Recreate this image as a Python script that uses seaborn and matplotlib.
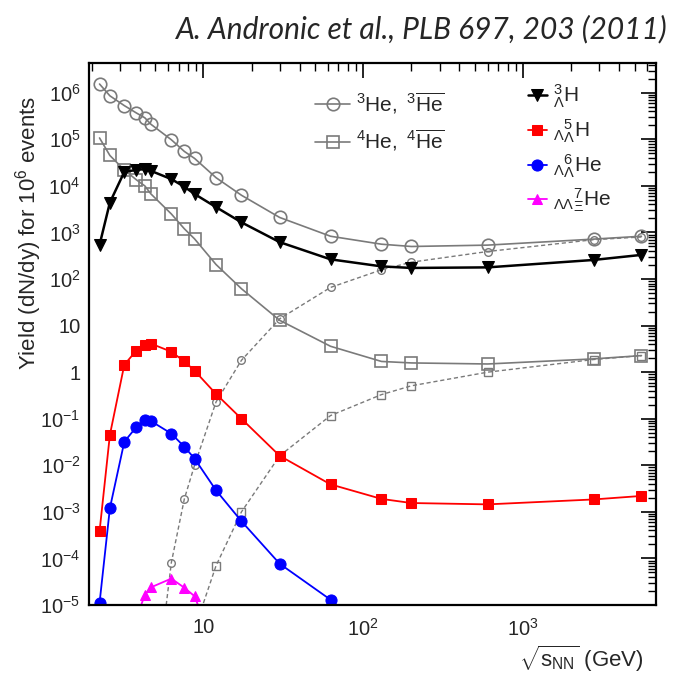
import numpy as np
import pandas as pd
import matplotlib
matplotlib.use("Agg")
import matplotlib.pyplot as plt
import seaborn as sns
from matplotlib.ticker import FixedLocator, FixedFormatter, LogLocator, NullFormatter

sns.set_theme(style="white")
plt.rcParams['font.family'] = ['Liberation Sans', 'DejaVu Sans']
plt.rcParams['mathtext.fontset'] = 'custom'
plt.rcParams['mathtext.rm'] = 'Liberation Sans'
plt.rcParams['mathtext.it'] = 'Liberation Sans:italic'
plt.rcParams['mathtext.bf'] = 'Liberation Sans:bold'

# ---------------- data ----------------
sqrt_s = [2.24, 2.6, 3.2, 3.8, 4.3, 4.7, 6.3, 7.6, 8.8, 12.0, 17.3, 30.0, 62.4,
          130.0, 200.0, 600.0, 2760.0, 5500.0]
he3 = [1.54e6, 8.6e5, 5.3e5, 3.7e5, 2.9e5, 2.1e5, 9.8e4, 5.5e4, 3.9e4, 1.5e4,
       6.3e3, 2.1e3, 830, 560, 500, 535, 720, 830]
he4 = [1.07e5, 4.5e4, 2.2e4, 1.36e4, 1.0e4, 6.7e3, 2.5e3, 1.2e3, 730, 205,
       62, 13, 3.6, 1.7, 1.58, 1.5, 1.93, 2.27]
hyper_h3 = [540, 4.4e3, 2.0e4, 2.2e4, 2.3e4, 2.1e4, 1.4e4, 9.6e3, 6.7e3, 3.5e3,
            1.65e3, 620, 265, 187, 173, 178, 257, 330]
ll_h5 = [3.8e-4, 0.045, 1.44, 2.9, 3.9, 4.1, 2.75, 1.7, 1.08, 0.34, 0.1, 0.016,
         3.9e-3, 1.9e-3, 1.55e-3, 1.45e-3, 1.85e-3, 2.2e-3]

anti_he3_x = [4.7, 6.3, 7.6, 8.8, 12.0, 17.3, 30.0, 62.4, 130.0, 200.0, 600.0, 2760.0, 5500.0]
anti_he3 = [2e-8, 8.1e-5, 1.9e-3, 1.0e-2, 0.23, 1.8, 14, 66, 158, 230, 390, 700, 800]
anti_he4_x = [8.8, 12.0, 17.3, 30.0, 62.4, 130.0, 200.0, 600.0, 2760.0, 5500.0]
anti_he4 = [3e-6, 7e-5, 1e-3, 0.016, 0.117, 0.33, 0.51, 1.0, 1.87, 2.27]

ll_he6_x = [2.24, 2.6, 3.2, 3.8, 4.3, 4.7, 6.3, 7.6, 8.8, 12.0, 17.3, 30.0, 62.4, 130.0]
ll_he6 = [1.1e-5, 1.2e-3, 0.032, 0.066, 0.092, 0.089, 0.048, 0.025, 0.014, 2.9e-3,
          6.3e-4, 7.7e-5, 1.3e-5, 2e-7]
llx_he7_x = [3.8, 4.3, 4.7, 6.3, 7.6, 8.8, 12.0]
llx_he7 = [5e-6, 1.66e-5, 2.4e-5, 3.7e-5, 2.35e-5, 1.55e-5, 1e-6]

y_ticks = [1e-5, 1e-4, 1e-3, 1e-2, 1e-1, 1, 10, 1e2, 1e3, 1e4, 1e5, 1e6]
y_ticklabels = ['$10^{-5}$', '$10^{-4}$', '$10^{-3}$', '$10^{-2}$', '$10^{-1}$', '1', '10',
                '$10^{2}$', '$10^{3}$', '$10^{4}$', '$10^{5}$', '$10^{6}$']
x_ticks = [10, 100, 1000]
x_ticklabels = ['10', '$10^{2}$', '$10^{3}$']

lab_he3 = r'$^{3}\mathrm{He},\ ^{3}\overline{\mathrm{He}}$'
lab_he4 = r'$^{4}\mathrm{He},\ ^{4}\overline{\mathrm{He}}$'
lab_h3 = r'${}^{3}_{\Lambda}\mathrm{H}$'
lab_h5 = r'${}_{\Lambda}{}^{5}_{\Lambda}\mathrm{H}$'
lab_he6 = r'${}_{\Lambda}{}^{6}_{\Lambda}\mathrm{He}$'
lab_he7 = r'${}_{\Lambda\Lambda}{}^{7}_{\Xi}\mathrm{He}$'

# ---------------- figure ----------------
fig = plt.figure(figsize=(6.73, 6.73), dpi=100)
ax = fig.add_axes([0.132, 0.101, 0.843, 0.805])

gray = '#7a7a7a'
common = dict(estimator=None, sort=False, ax=ax)

sns.lineplot(x=anti_he3_x, y=anti_he3, color=gray, linestyle=(0, (3, 2)), linewidth=1.0,
             marker='o', markersize=5.5, markerfacecolor='none', markeredgecolor=gray,
             markeredgewidth=1.0, **common)
sns.lineplot(x=anti_he4_x, y=anti_he4, color=gray, linestyle=(0, (3, 2)), linewidth=1.0,
             marker='s', markersize=5.5, markerfacecolor='none', markeredgecolor=gray,
             markeredgewidth=1.0, **common)
sns.lineplot(x=sqrt_s, y=he3, color=gray, linewidth=1.2, marker='o', markersize=9,
             markerfacecolor='none', markeredgecolor=gray, markeredgewidth=1.2,
             label=lab_he3, **common)
sns.lineplot(x=sqrt_s, y=he4, color=gray, linewidth=1.2, marker='s', markersize=8.6,
             markerfacecolor='none', markeredgecolor=gray, markeredgewidth=1.2,
             label=lab_he4, **common)
sns.lineplot(x=sqrt_s, y=hyper_h3, color='black', linewidth=1.8, marker='v', markersize=8,
             markerfacecolor='black', markeredgecolor='black', label=lab_h3, **common)
sns.lineplot(x=sqrt_s, y=ll_h5, color='#ff0000', linewidth=1.3, marker='s', markersize=7.5,
             markerfacecolor='#ff0000', markeredgecolor='#ff0000', label=lab_h5, **common)
sns.lineplot(x=ll_he6_x, y=ll_he6, color='#0000ff', linewidth=1.3, marker='o', markersize=8,
             markerfacecolor='#0000ff', markeredgecolor='#0000ff', label=lab_he6, **common)
sns.lineplot(x=llx_he7_x, y=llx_he7, color='#ff00ff', linewidth=1.3, marker='^', markersize=7,
             markerfacecolor='#ff00ff', markeredgecolor='#ff00ff', label=lab_he7, **common)

ax.set_xscale('log')
ax.set_yscale('log')
ax.set_xlim(1.92, 6800)
ax.set_ylim(1e-5, 4.3e6)

ax.yaxis.set_major_locator(FixedLocator(y_ticks))
ax.yaxis.set_major_formatter(FixedFormatter(y_ticklabels))
ax.yaxis.set_minor_locator(LogLocator(base=10, subs=np.arange(2, 10), numticks=30))
ax.yaxis.set_minor_formatter(NullFormatter())
ax.xaxis.set_major_locator(FixedLocator(x_ticks))
ax.xaxis.set_major_formatter(FixedFormatter(x_ticklabels))
ax.xaxis.set_minor_locator(LogLocator(base=10, subs=np.arange(2, 10), numticks=30))
ax.xaxis.set_minor_formatter(NullFormatter())

ax.tick_params(which='both', direction='in', top=True, right=True, color='black')
ax.tick_params(which='major', length=11, width=1.2, labelsize=14.5)
ax.tick_params(which='minor', length=6, width=1.0)
ax.tick_params(axis='y', which='major', pad=6)
ax.tick_params(axis='x', which='major', pad=9)
for s in ax.spines.values():
    s.set_color('black')
    s.set_linewidth(1.6)

ax.set_xlabel('')
ax.set_ylabel('')
fig.text(29 / 673, 1 - 233 / 673, r'Yield (dN/dy) for $10^{6}$ events', rotation=90,
         ha='center', va='center', fontsize=16)
fig.text(644 / 673, 1 - 659 / 673, r'$\sqrt{\mathrm{s}_{\mathrm{NN}}}$ (GeV)',
         ha='right', va='center', fontsize=16)
fig.text(668 / 673, 1 - 29 / 673, 'A. Andronic et al., PLB 697, 203 (2011)',
         ha='right', va='center', fontsize=21.5, family='Lato', style='italic')

handles, labels = ax.get_legend_handles_labels()
hd = dict(zip(labels, handles))
leg1 = ax.legend([hd[lab_he3], hd[lab_he4]], [lab_he3, lab_he4],
                 loc='upper left', bbox_to_anchor=(315 / 673, 1 - 91 / 673),
                 bbox_transform=fig.transFigure, frameon=False, fontsize=15,
                 handlelength=1.7, handletextpad=0.25, labelspacing=0.58, borderpad=0,
                 borderaxespad=0)
ax.add_artist(leg1)
leg2 = ax.legend([hd[lab_h3], hd[lab_h5], hd[lab_he6], hd[lab_he7]],
                 [lab_h3, lab_h5, lab_he6, lab_he7],
                 loc='upper left', bbox_to_anchor=(528 / 673, 1 - 83 / 673),
                 bbox_transform=fig.transFigure, frameon=False, fontsize=15,
                 handlelength=0.9, handletextpad=0.3, labelspacing=0.35, borderpad=0,
                 borderaxespad=0)

fig.savefig('out.png', dpi=100)
